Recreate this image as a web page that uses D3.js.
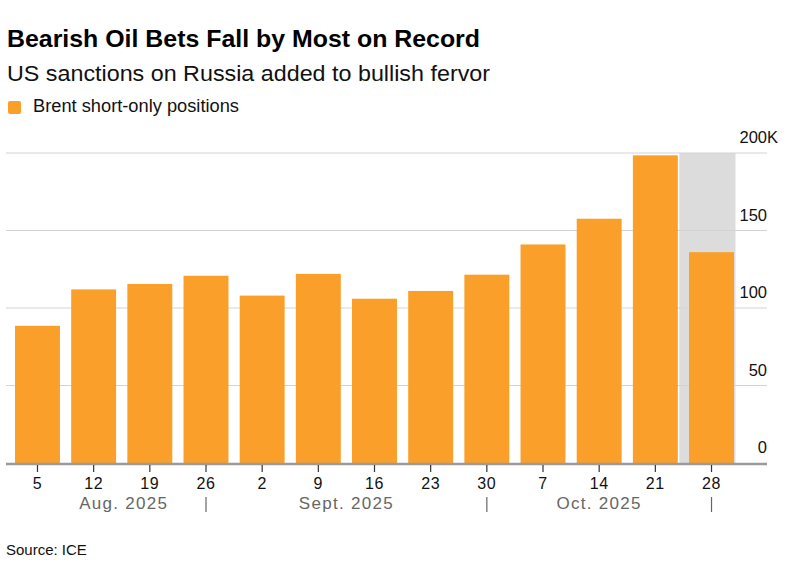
<!DOCTYPE html>
<html>
<head>
<meta charset="utf-8">
<script src="https://cdn.jsdelivr.net/npm/d3@7"></script>
<style>
  body { margin: 0; background: #fff; }
  text { font-family: "Liberation Sans", Arial, sans-serif; }
</style>
</head>
<body>
<div id="chart"></div>
<script>
// weekly report dates (Aug - Oct 2025)
var weeks = ["Aug 5", "Aug 12", "Aug 19", "Aug 26", "Sep 2", "Sep 9", "Sep 16",
             "Sep 23", "Sep 30", "Oct 7", "Oct 14", "Oct 21", "Oct 28"];
var dayLabels = ["5", "12", "19", "26", "2", "9", "16", "23", "30", "7", "14", "21", "28"];
// Brent short-only positions, thousands of contracts
var shorts = [88.5, 112, 115.5, 120.8, 108, 122, 106, 111, 121.5, 141, 157.6, 198.5, 136];
var yTicks = [0, 50, 100, 150, 200];
var months = ["Aug. 2025", "Sept. 2025", "Oct. 2025"];
// month spans, as [first week, last week] indices
var monthSpans = [[0, 3], [3, 8], [8, 12]];
var shadedWeek = "Oct 28";

var w = 790, h = 570;
var mLeft = 6, mRight = 767, mTop = 153, mBottom = 463;
var orange = "#f99f2a";

var svg = d3.select("#chart").append("svg")
  .attr("width", w)
  .attr("height", h);

var x = d3.scaleBand()
  .domain(weeks)
  .range([9.4, 739.6])
  .paddingInner(0.2)
  .paddingOuter(0.1);

var y = d3.scaleLinear()
  .domain([0, 200])
  .range([mBottom, mTop]);

// title block
svg.append("text")
  .attr("x", 7).attr("y", 47)
  .attr("font-size", "24px").attr("font-weight", "bold")
  .attr("fill", "#000")
  .attr("textLength", 473).attr("lengthAdjust", "spacingAndGlyphs")
  .text("Bearish Oil Bets Fall by Most on Record");

svg.append("text")
  .attr("x", 7).attr("y", 81)
  .attr("font-size", "22px")
  .attr("fill", "#111")
  .attr("textLength", 483).attr("lengthAdjust", "spacingAndGlyphs")
  .text("US sanctions on Russia added to bullish fervor");

svg.append("rect")
  .attr("x", 8).attr("y", 101)
  .attr("width", 13).attr("height", 13)
  .attr("rx", 2)
  .attr("fill", orange);

svg.append("text")
  .attr("x", 33).attr("y", 112)
  .attr("font-size", "18px")
  .attr("fill", "#111")
  .attr("textLength", 206).attr("lengthAdjust", "spacingAndGlyphs")
  .text("Brent short-only positions");

// shaded latest week
var step = x.step();
svg.append("rect")
  .attr("x", x(shadedWeek) - (step - x.bandwidth()) + 1.5)
  .attr("y", y(200))
  .attr("width", step)
  .attr("height", y(0) - y(200))
  .attr("fill", "#dcdcdc");

// gridlines
svg.selectAll(".grid")
  .data(yTicks.slice(1))
  .enter()
  .append("line")
  .attr("x1", mLeft).attr("x2", mRight)
  .attr("y1", function(d) { return y(d); })
  .attr("y2", function(d) { return y(d); })
  .attr("stroke", "#d3d3d3")
  .attr("stroke-width", 1.2);

// y labels (number right-aligned, K hangs after)
svg.selectAll(".ylab")
  .data(yTicks)
  .enter()
  .append("text")
  .attr("x", mRight)
  .attr("y", function(d) { return y(d) - 10; })
  .attr("text-anchor", "end")
  .attr("font-size", "16.5px")
  .attr("fill", "#111")
  .text(function(d) { return d; });

svg.append("text")
  .attr("x", mRight)
  .attr("y", y(200) - 10)
  .attr("font-size", "16.5px")
  .attr("fill", "#111")
  .text("K");

// bars
svg.selectAll(".bar")
  .data(shorts)
  .enter()
  .append("rect")
  .attr("x", function(d, i) { return x(weeks[i]); })
  .attr("y", function(d) { return y(d); })
  .attr("width", x.bandwidth())
  .attr("height", function(d) { return y(0) - y(d); })
  .attr("fill", orange);

// baseline
svg.append("line")
  .attr("x1", mLeft).attr("x2", mRight)
  .attr("y1", mBottom + 1).attr("y2", mBottom + 1)
  .attr("stroke", "#9a9a9a")
  .attr("stroke-width", 2.5);

// x ticks + day labels
var cx = function(i) { return x(weeks[i]) + x.bandwidth() / 2; };

svg.selectAll(".xtick")
  .data(weeks)
  .enter()
  .append("line")
  .attr("x1", function(d, i) { return cx(i); })
  .attr("x2", function(d, i) { return cx(i); })
  .attr("y1", mBottom + 2).attr("y2", mBottom + 9)
  .attr("stroke", "#333")
  .attr("stroke-width", 1.2);

svg.selectAll(".xlab")
  .data(dayLabels)
  .enter()
  .append("text")
  .attr("x", function(d, i) { return cx(i); })
  .attr("y", 489)
  .attr("text-anchor", "middle")
  .attr("font-size", "16px")
  .attr("letter-spacing", "0.6px")
  .attr("fill", "#111")
  .text(function(d) { return d; });

// month labels and separators
svg.selectAll(".month")
  .data(months)
  .enter()
  .append("text")
  .attr("x", function(d, i) { return (cx(monthSpans[i][0]) + cx(monthSpans[i][1])) / 2 + (i == 0 ? 2 : 0); })
  .attr("y", 509)
  .attr("text-anchor", "middle")
  .attr("font-size", "17px")
  .attr("letter-spacing", "1.3px")
  .attr("fill", "#666")
  .text(function(d) { return d; });

svg.selectAll(".sep")
  .data(monthSpans)
  .enter()
  .append("line")
  .attr("x1", function(d) { return cx(d[1]); })
  .attr("x2", function(d) { return cx(d[1]); })
  .attr("y1", 497).attr("y2", 512)
  .attr("stroke", "#666")
  .attr("stroke-width", 1.2);

// source
svg.append("text")
  .attr("x", 6).attr("y", 555)
  .attr("font-size", "15px")
  .attr("fill", "#111")
  .text("Source: ICE");
</script>
</body>
</html>
